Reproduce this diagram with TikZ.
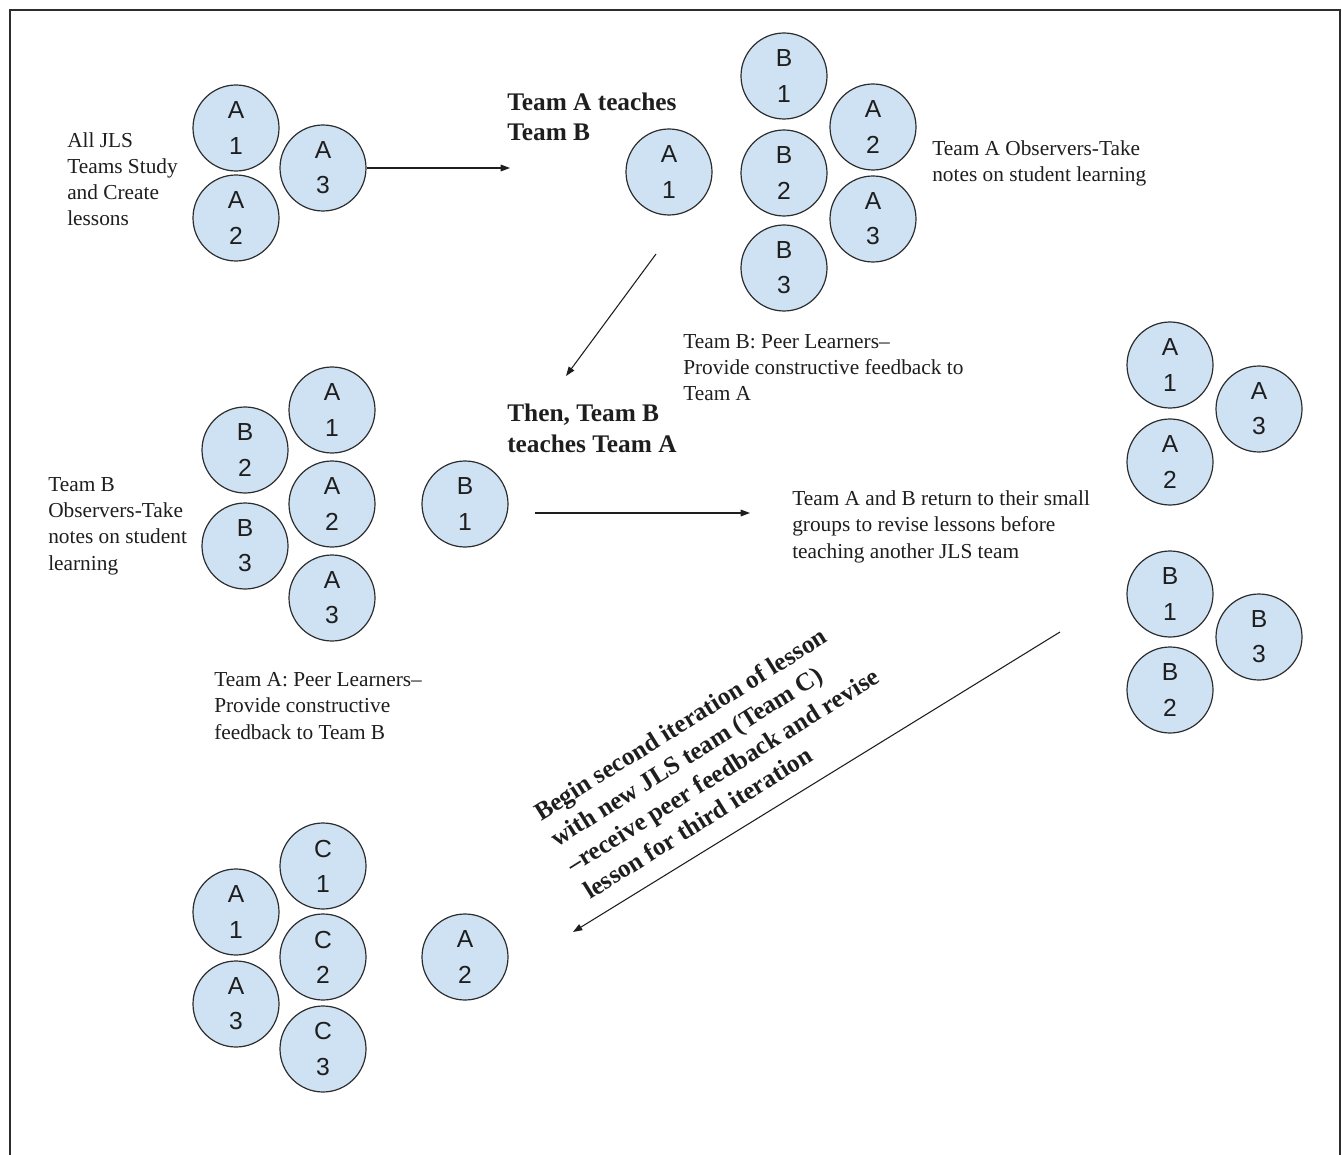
\documentclass[tikz,border=0pt]{standalone}
\usepackage{fontspec}
\setmainfont{Liberation Serif}
\newfontfamily\labelsans{Liberation Sans}
\usetikzlibrary{arrows.meta}
\definecolor{memberfill}{RGB}{207,226,243}
\definecolor{memberline}{RGB}{45,45,45}
\definecolor{inktext}{RGB}{30,30,30}
\newcommand{\memberfont}{\labelsans\fontsize{18.5}{26.3}\selectfont}
\newcommand{\notefont}{\fontsize{16}{19.7}\selectfont}
\newcommand{\headfont}{\bfseries\fontsize{19}{23.2}\selectfont}

\begin{document}
\begin{tikzpicture}[x=0.75pt,y=0.75pt,yscale=-1,xscale=1,
  member/.style={circle, draw=memberline, fill=memberfill, line width=0.9pt, minimum size=64.5pt, inner sep=0pt, align=center, font=\memberfont, text=inktext},
  note/.style={anchor=base west, align=left, inner sep=0pt, font=\notefont, text=inktext},
  headline/.style={note, font=\headfont},
  flow/.style={-{Triangle[length=7pt,width=5pt]}, line width=0.8pt, draw=inktext}]
\useasboundingbox (0,0) rectangle (1342,1155);

%Shape: Frame
\draw [line width=1.1pt, draw=memberline] (10,10) rectangle (1340,1175) ;

%Group: all teams study
\node [member] (gaA1) at (236,128) {A\\1};
\node [member] (gaA2) at (236,218) {A\\2};
\node [member] (gaA3) at (323,168) {A\\3};
% Text Node (placed at the baseline of its last line)
\node [note] (tStudy) at (67,226) {All JLS\\Teams Study\\and Create\\lessons};

%Group: team A teaches team B
\node [member] (gbA1) at (669,172) {A\\1};
\node [member] (gbB1) at (784,76) {B\\1};
\node [member] (gbB2) at (784,173) {B\\2};
\node [member] (gbB3) at (784,268) {B\\3};
\node [member] (gbA2) at (873,127) {A\\2};
\node [member] (gbA3) at (873,219) {A\\3};
% Text Node
\node [headline] (tTeachB) at (507,141) {Team A teaches\\Team B};
% Text Node
\node [note] (tObsA) at (932,182) {Team A Observers-Take\\notes on student learning};
% Text Node
\node [note] (tPeerB) at (683,401) {Team B: Peer Learners--\\Provide constructive feedback to\\Team A};

%Group: team B teaches team A
\node [member] (gcA1) at (332,410) {A\\1};
\node [member] (gcA2) at (332,504) {A\\2};
\node [member] (gcA3) at (332,598) {A\\3};
\node [member] (gcB2) at (245,450) {B\\2};
\node [member] (gcB3) at (245,546) {B\\3};
\node [member] (gcB1) at (465,504) {B\\1};
% Text Node
\node [headline] (tTeachA) at (507,452) {Then, Team B\\teaches Team A};
% Text Node
\node [note] (tObsB) at (48,570) {Team B\\Observers-Take\\notes on student\\learning};
% Text Node
\node [note] (tPeerA) at (214,739) {Team A: Peer Learners--\\Provide constructive\\feedback to Team B};

%Group: small groups revise
\node [member] (gdA1) at (1170,365) {A\\1};
\node [member] (gdA2) at (1170,462) {A\\2};
\node [member] (gdA3) at (1259,409) {A\\3};
\node [member] (gdB1) at (1170,594) {B\\1};
\node [member] (gdB2) at (1170,690) {B\\2};
\node [member] (gdB3) at (1259,637) {B\\3};
% Text Node
\node [note] (tRevise) at (792,558) {Team A and B return to their small\\groups to revise lessons before\\teaching another JLS team};

%Group: second iteration with team C
\node [member] (geC1) at (323,866) {C\\1};
\node [member] (geC2) at (323,957) {C\\2};
\node [member] (geC3) at (323,1049) {C\\3};
\node [member] (geA1) at (236,912) {A\\1};
\node [member] (geA3) at (236,1004) {A\\3};
\node [member] (geA2) at (465,957) {A\\2};
% Text Node
\node [headline, rotate=32] (tSecond) at (590,900) {Begin second iteration of lesson\\with new JLS team (Team C)\\--receive peer feedback and revise\\lesson for third iteration};

%Straight Lines
\coordinate (fOneEnd) at (510,168) ;
\coordinate (fTwoStart) at (656,254) ;
\coordinate (fTwoEnd) at (566,376) ;
\coordinate (fThreeStart) at (535,513) ;
\coordinate (fThreeEnd) at (750,513) ;
\coordinate (fFourStart) at (1060,632) ;
\coordinate (fFourEnd) at (573,932) ;
\draw [flow] (gaA3.east) -- (fOneEnd) ;
\draw [flow] (fTwoStart) -- (fTwoEnd) ;
\draw [flow] (fThreeStart) -- (fThreeEnd) ;
\draw [flow] (fFourStart) -- (fFourEnd) ;

\end{tikzpicture}
\end{document}
